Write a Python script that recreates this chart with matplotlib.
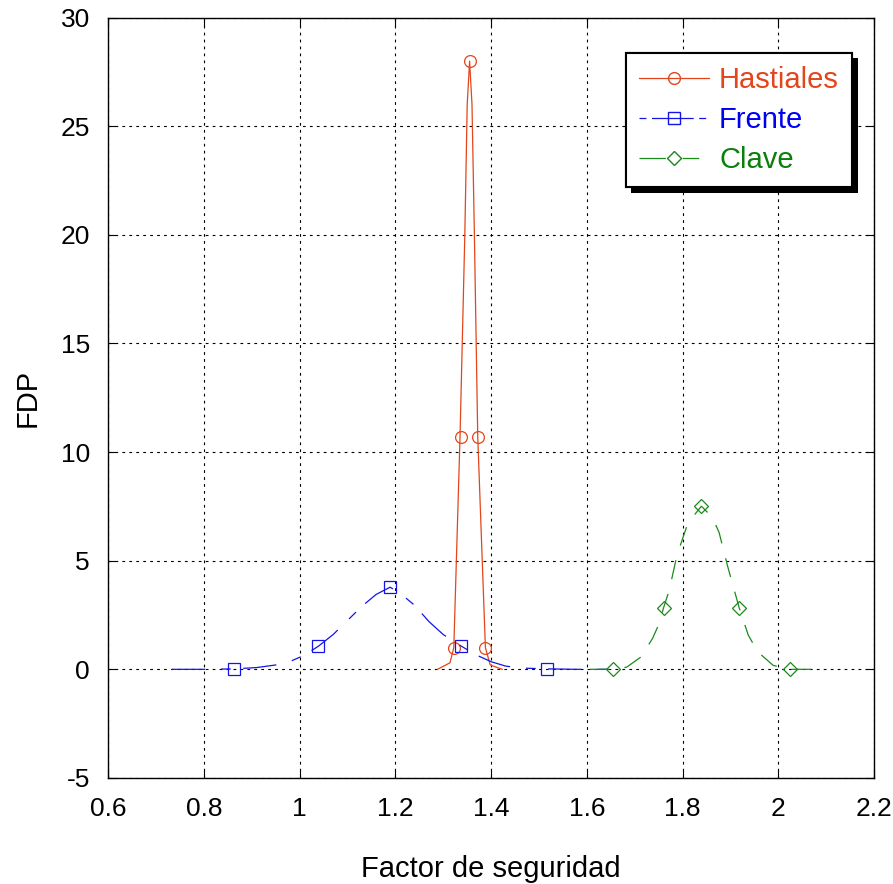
import matplotlib
matplotlib.use("Agg")
import matplotlib.pyplot as plt
import matplotlib.patheffects as pe

plt.rcParams['font.family'] = ['Liberation Sans', 'DejaVu Sans']
plt.rcParams['lines.scale_dashes'] = False
plt.rcParams['axes.unicode_minus'] = False

# Hastiales: polyline of the density and the marked points
hast_x = [1.288, 1.314, 1.322, 1.335, 1.345, 1.350, 1.355, 1.360, 1.365, 1.372, 1.388, 1.398, 1.423]
hast_y = [0.0, 0.3, 1.0, 10.7, 20.0, 26.0, 28.0, 26.0, 20.0, 10.7, 1.0, 0.2, 0.0]
hast_mx = [1.322, 1.338, 1.355, 1.372, 1.388]
hast_my = [1.0, 10.7, 28.0, 10.7, 1.0]

# Frente
fren_x = [0.733, 0.80, 0.863, 0.91, 0.95, 0.98, 1.01, 1.039, 1.07, 1.10, 1.13,
          1.16, 1.189, 1.21, 1.24, 1.27, 1.30, 1.338, 1.37, 1.40, 1.43, 1.46,
          1.517, 1.58, 1.645]
fren_y = [0.0, 0.0, 0.02, 0.08, 0.2, 0.36, 0.65, 1.06, 1.6, 2.25, 2.9,
          3.45, 3.78, 3.5, 2.95, 2.2, 1.6, 1.06, 0.65, 0.35, 0.15, 0.06,
          0.02, 0.0, 0.0]
fren_mx = [0.863, 1.039, 1.189, 1.338, 1.517]
fren_my = [0.0, 1.06, 3.78, 1.06, 0.0]

# Clave
clav_x = [1.606, 1.654, 1.683, 1.713, 1.737, 1.751, 1.760, 1.772, 1.788, 1.811,
          1.839, 1.862, 1.876, 1.894, 1.918, 1.937, 1.957, 1.989, 2.024, 2.08]
clav_y = [0.0, 0.0, 0.1, 0.57, 1.42, 2.11, 2.83, 3.65, 5.25, 6.74,
          7.51, 7.0, 6.3, 4.73, 2.83, 1.57, 0.8, 0.18, 0.0, 0.0]
clav_mx = [1.654, 1.760, 1.839, 1.918, 2.024]
clav_my = [0.0, 2.83, 7.51, 2.83, 0.0]

xticks = [0.6, 0.8, 1.0, 1.2, 1.4, 1.6, 1.8, 2.0, 2.2]
xlabels = ['0.6', '0.8', '1', '1.2', '1.4', '1.6', '1.8', '2', '2.2']
yticks = [-5, 0, 5, 10, 15, 20, 25, 30]

c_hast = '#E2461A'
c_fren = '#1414E6'
c_clav = '#1A8A1A'

fig = plt.figure(figsize=(8.93, 8.84), dpi=100)
ax = fig.add_axes([0.121, 0.12, 0.858, 0.86])

ax.plot(hast_x, hast_y, color=c_hast, lw=0.9)
ax.plot(hast_mx, hast_my, ls='none', marker='o', ms=8.5, mfc='none',
        mec=c_hast, mew=0.9)
ax.plot(fren_x, fren_y, color=c_fren, lw=0.9, dashes=(24, 11.5, 7, 9))
ax.plot(fren_mx, fren_my, ls='none', marker='s', ms=9, mfc='none',
        mec=c_fren, mew=0.9)
ax.plot(clav_x, clav_y, color=c_clav, lw=0.9, dashes=(14, 11))
ax.plot(clav_mx, clav_my, ls='none', marker='D', ms=7, mfc='none',
        mec=c_clav, mew=0.9)

# legend handles: line with a marker in the middle
h1, = ax.plot([], [], color=c_hast, lw=0.9, marker='o', ms=8.5, mfc='none', mec=c_hast)
h2, = ax.plot([], [], color=c_fren, lw=0.9, dashes=(5, 4, 30, 4),
              marker='s', ms=9, mfc='none', mec=c_fren)
h3, = ax.plot([], [], color=c_clav, lw=0.9, dashes=(19, 12, 12, 10),
              marker='D', ms=7, mfc='none', mec=c_clav)

ax.set_xlim(0.6, 2.2)
ax.set_ylim(-5, 30)
ax.set_xticks(xticks)
ax.set_xticklabels(xlabels)
ax.set_yticks(yticks)
ax.grid(True, color='black', lw=0.8, linestyle=(0, (2, 3)))
ax.tick_params(direction='in', length=6, width=0.8, top=True, right=True,
               labelsize=19)
ax.tick_params(axis='x', pad=14)
ax.tick_params(axis='y', pad=13)
for s in ax.spines.values():
    s.set_linewidth(1.0)

ax.set_xlabel('Factor de seguridad', fontsize=21, labelpad=24)
ax.set_ylabel('FDP', fontsize=21, labelpad=14)

leg = ax.legend([h1, h2, h3], ['Hastiales', 'Frente', 'Clave'],
                loc='upper right', bbox_to_anchor=(0.971, 0.954),
                borderaxespad=0, fontsize=21, fancybox=False, framealpha=1,
                edgecolor='black', handlelength=2.4, handletextpad=0.35,
                labelspacing=0.42, borderpad=0.45, numpoints=1)
leg.get_frame().set_linewidth(1.5)
leg.get_frame().set_path_effects([
    pe.withSimplePatchShadow(offset=(4, -4), shadow_rgbFace='black', alpha=1),
    pe.Normal()])
for txt, col in zip(leg.get_texts(), [c_hast, '#0000F0', '#0A800A']):
    txt.set_color(col)

fig.savefig('out.png', dpi=100)
